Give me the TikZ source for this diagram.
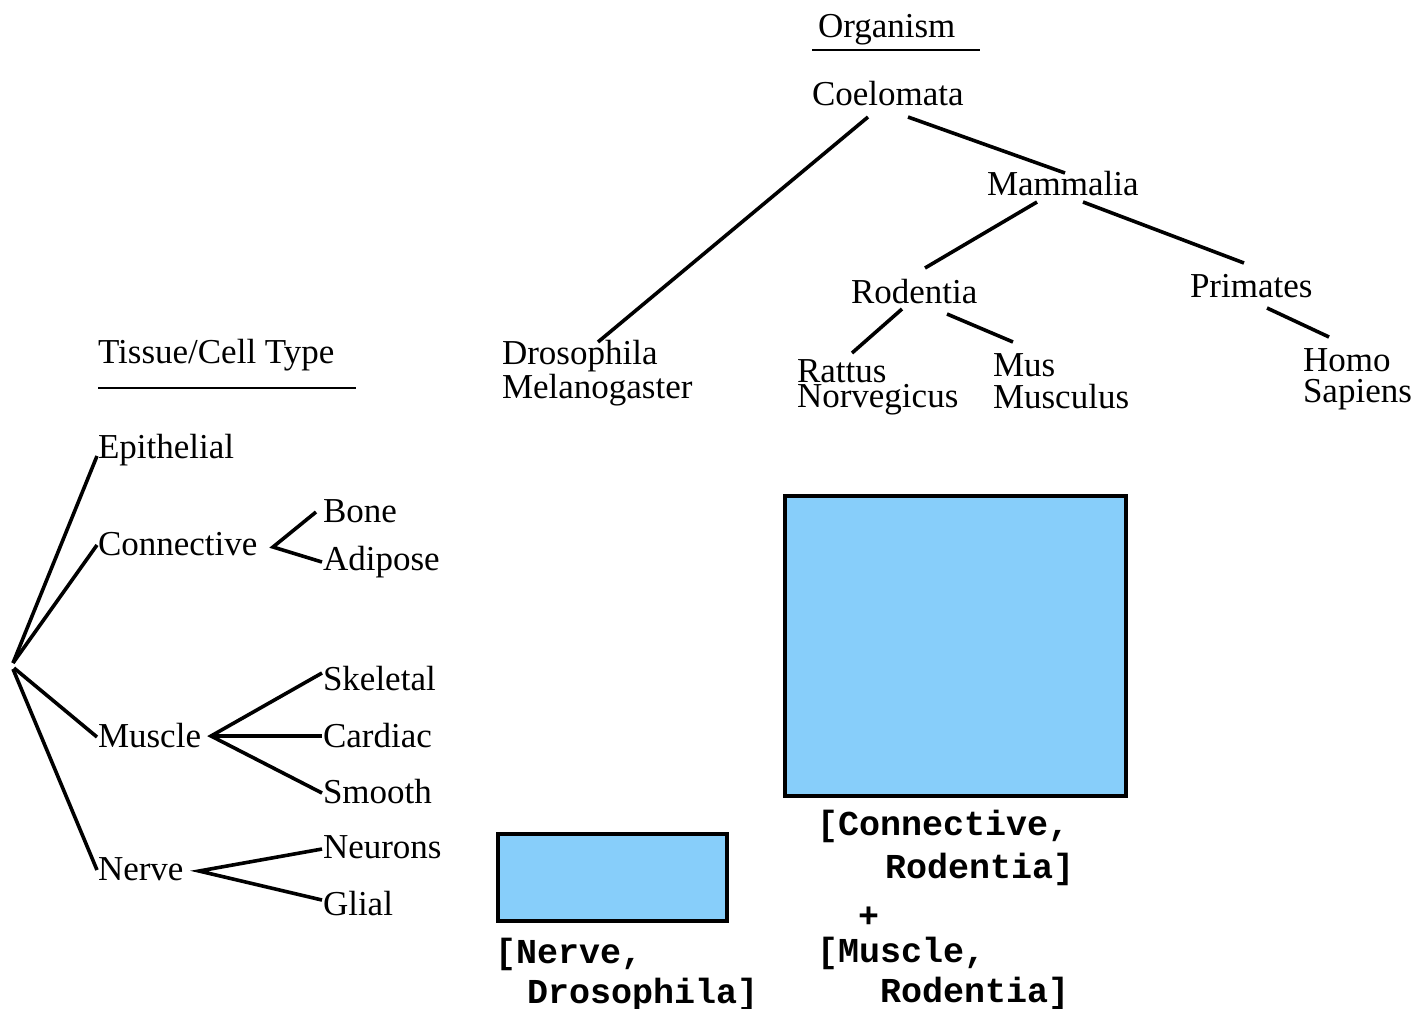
\documentclass[tikz,border=0pt]{standalone}
\usepackage{fontspec}
\setmainfont{Liberation Serif}
\setmonofont{Liberation Mono}
\usepackage{xcolor}
\usepackage{tikz}
\definecolor{cellblue}{HTML}{87CEFA}
\tikzset{
  taxon/.style={inner sep=0pt, outer sep=0pt, anchor=base west,
    font=\fontsize{17.5}{14}\selectfont},
  leaf/.style={taxon, align=left, font=\fontsize{17.5}{#1}\selectfont},
  branch/.style={line width=1.8pt, draw=black},
  headrule/.style={line width=0.8pt, draw=black},
  cellbox/.style={draw=black, line width=2pt, fill=cellblue, inner sep=0pt},
  cellname/.style={inner sep=0pt, outer sep=0pt, anchor=base west, align=left,
    font=\ttfamily\bfseries\fontsize{17.5}{#1}\selectfont}
}

\begin{document}
\begin{tikzpicture}[x=0.5pt, y=-0.5pt]
  \useasboundingbox (0,0) rectangle (1416,1008);
  % organism hierarchy
  \node[taxon] (org) at (818,37) {Organism};
  \node[taxon] (coel) at (812,105) {Coelomata};
  \node[taxon] (mamm) at (987,195) {Mammalia};
  \node[taxon] (rod) at (851,303) {Rodentia};
  \node[taxon] (prim) at (1190,297) {Primates};
  \node[leaf=14] (dros) at (502,398) {Drosophila\\Melanogaster};
  \node[leaf=12.5] (ratt) at (797,407) {Rattus\\Norvegicus};
  \node[leaf=16] (mus) at (993,408) {Mus\\Musculus};
  \node[leaf=15.5] (homo) at (1303,402) {Homo\\Sapiens};
  \draw[headrule] ([shift={(-6,13)}]org.base west) -- ([shift={(162,13)}]org.base west);
  \draw[branch] ([shift={(56,12)}]coel.base west) -- ([shift={(96,-56)}]dros.base west);
  \draw[branch] ([shift={(96,12)}]coel.base west) -- ([shift={(78,-22)}]mamm.base west);
  \draw[branch] ([shift={(50,7)}]mamm.base west) -- ([shift={(74,-35)}]rod.base west);
  \draw[branch] ([shift={(96,7)}]mamm.base west) -- ([shift={(54,-34)}]prim.base west);
  \draw[branch] ([shift={(51,6)}]rod.base west) -- ([shift={(55,-54)}]ratt.base west);
  \draw[branch] ([shift={(96,11)}]rod.base west) -- ([shift={(20,-66)}]mus.base west);
  \draw[branch] ([shift={(77,11)}]prim.base west) -- ([shift={(26,-65)}]homo.base west);

  % tissue hierarchy
  \node[taxon] (tis) at (98,363) {Tissue/Cell Type};
  \coordinate (root) at (13,663);
  \node[taxon] (epi) at (98,458) {Epithelial};
  \node[taxon] (conn) at (98,555) {Connective};
  \node[taxon] (bone) at (323,522) {Bone};
  \node[taxon] (adip) at (323,570) {Adipose};
  \node[taxon] (musc) at (98,747) {Muscle};
  \node[taxon] (skel) at (323,690) {Skeletal};
  \node[taxon] (card) at (323,747) {Cardiac};
  \node[taxon] (smoo) at (323,803) {Smooth};
  \node[taxon] (nerve) at (98,880) {Nerve};
  \node[taxon] (neur) at (323,858) {Neurons};
  \node[taxon] (glia) at (323,915) {Glial};
  \draw[headrule] ([shift={(0,25)}]tis.base west) -- ([shift={(258,25)}]tis.base west);
  \draw[branch] (root) -- ([shift={(-1,-2)}]epi.base west);
  \draw[branch] (root) -- ([shift={(-1,-10)}]conn.base west);
  \draw[branch] ([shift={(1,5)}]root) -- ([shift={(-1,-10)}]musc.base west);
  \draw[branch] ([shift={(0,6)}]root) -- ([shift={(-1,-10)}]nerve.base west);
  \draw[branch] ([shift={(-7,-10)}]bone.base west) -- ([shift={(175,-8)}]conn.base west)
    -- ([shift={(-1,-8)}]adip.base west);
  \draw[branch] ([shift={(-1,-17)}]skel.base west) -- ([shift={(113,-11)}]musc.base west)
    -- ([shift={(-1,-10)}]smoo.base west);
  \draw[branch] ([shift={(113,-11)}]musc.base west) -- ([shift={(-1,-11)}]card.base west);
  \draw[branch] ([shift={(-1,-9)}]neur.base west) -- ([shift={(101,-9)}]nerve.base west)
    -- ([shift={(-1,-15)}]glia.base west);

  % cells
  \node[cellbox, minimum width=114.5pt, minimum height=43.5pt] (nd) at (612,877) {};
  \node[cellbox, minimum width=170.5pt, minimum height=150pt] (cr) at (955.5,645.5) {};
  \node[cellname=20] (ndtag) at (495,1003) {[Nerve,\\\hspace*{16pt}Drosophila]};
  \node[cellname=21.5] (crtag) at (817,878) {[Connective,\\\hspace*{34pt}Rodentia]};
  \node[cellname=20] (plus) at (858,927) {+};
  \node[cellname=20] (mrtag) at (817,1002) {[Muscle,\\\hspace*{31.5pt}Rodentia]};
\end{tikzpicture}
\end{document}
